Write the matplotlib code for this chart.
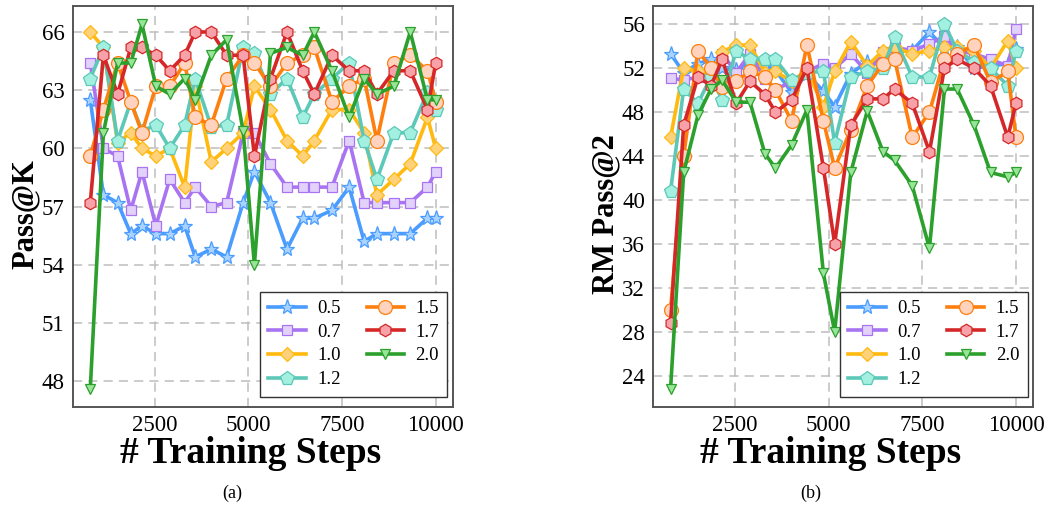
import numpy as np
import matplotlib.pyplot as plt

# ---------------      Datos       -------------------------

steps = [780, 1130, 1510, 1860, 2160, 2530, 2900, 3300, 3580, 4010, 4420, 4860, 5160,
         5590, 6030, 6450, 6760, 7230, 7690, 8090, 8430, 8880, 9320, 9780, 10000]

temps = ['0.5', '0.7', '1.0', '1.2', '1.5', '1.7', '2.0']

# (a) Pass@K
passk_05 = [62.5, 57.6, 57.2, 55.6, 56.0, 55.6, 55.6, 56.0, 54.4, 54.8, 54.4, 57.2, 58.8,
            57.2, 54.8, 56.4, 56.4, 56.8, 58.0, 55.2, 55.6, 55.6, 55.6, 56.4, 56.4]
passk_07 = [64.4, 60.0, 59.6, 56.8, 58.8, 56.0, 58.4, 57.2, 58.0, 57.0, 57.2, 60.8, 60.8,
            59.2, 58.0, 58.0, 58.0, 58.0, 60.4, 57.2, 57.2, 57.2, 57.2, 58.0, 58.8]
passk_10 = [66.0, 65.2, 60.3, 60.8, 60.0, 59.6, 60.0, 58.0, 63.2, 59.3, 60.0, 60.8, 63.2,
            62.0, 60.4, 59.6, 60.4, 62.0, 62.0, 60.8, 57.6, 58.4, 59.2, 61.6, 60.0]
passk_12 = [63.6, 65.2, 60.4, 62.4, 60.9, 61.2, 60.0, 61.2, 63.6, 61.1, 61.2, 65.2, 64.9,
            62.8, 63.6, 61.6, 62.8, 63.6, 64.4, 60.4, 58.4, 60.8, 60.8, 62.9, 62.0]
passk_15 = [59.6, 62.0, 64.4, 62.4, 60.8, 63.2, 63.2, 64.4, 61.6, 61.2, 63.6, 64.8, 64.4,
            63.2, 64.4, 64.8, 65.2, 62.4, 63.2, 63.6, 60.4, 64.4, 64.8, 64.0, 62.4]
passk_17 = [57.2, 64.8, 62.8, 65.2, 65.2, 64.8, 64.0, 64.8, 66.0, 66.0, 64.8, 64.8, 59.6,
            63.6, 66.0, 64.0, 62.8, 64.8, 64.0, 64.0, 62.8, 64.0, 64.0, 62.0, 64.4]
passk_20 = [47.6, 60.8, 64.4, 64.4, 66.4, 63.2, 62.8, 63.6, 62.5, 64.8, 65.6, 60.9, 54.0,
            64.9, 65.2, 64.8, 66.0, 64.0, 61.6, 63.6, 62.8, 63.2, 66.0, 62.5, 62.5]

# (b) RM Pass@2
rm_05 = [53.3, 51.6, 52.4, 52.8, 52.0, 51.8, 52.6, 52.3, 51.8, 49.8, 51.5, 49.9, 48.5,
         51.5, 52.6, 52.2, 53.5, 53.6, 55.3, 53.8, 53.9, 52.0, 52.2, 52.4, 53.7]
rm_07 = [51.1, 50.9, 51.2, 51.5, 53.3, 51.6, 53.3, 51.0, 50.1, 50.7, 51.7, 52.4, 52.0,
         53.3, 51.6, 53.5, 53.9, 53.6, 54.2, 54.9, 53.6, 53.3, 52.8, 52.2, 55.6]
rm_10 = [45.7, 52.0, 51.7, 51.5, 53.5, 54.1, 54.1, 51.6, 51.7, 50.8, 51.8, 48.5, 51.7,
         54.4, 52.2, 53.6, 53.9, 53.3, 53.6, 53.9, 53.9, 53.6, 52.0, 54.5, 52.0]
rm_12 = [40.8, 50.1, 48.8, 51.2, 49.1, 53.6, 52.8, 52.8, 52.8, 50.9, 51.6, 51.7, 45.2,
         51.2, 51.7, 52.0, 54.8, 51.2, 51.2, 56.0, 53.6, 52.6, 52.0, 50.4, 53.6]
rm_15 = [30.0, 44.0, 53.6, 52.0, 50.3, 50.8, 51.7, 51.2, 50.0, 47.2, 54.1, 47.2, 42.9,
         46.4, 50.4, 52.4, 52.8, 45.7, 48.0, 52.8, 53.3, 54.1, 50.7, 51.7, 45.7]
rm_17 = [28.8, 46.8, 51.2, 50.4, 52.8, 48.8, 50.8, 49.6, 48.0, 49.1, 52.0, 42.9, 36.0,
         46.8, 49.2, 49.2, 50.1, 48.8, 44.4, 52.0, 52.8, 52.0, 50.4, 45.7, 48.8]
rm_20 = [22.8, 42.5, 47.7, 50.1, 50.9, 48.9, 48.9, 44.2, 42.9, 45.0, 48.2, 33.3, 28.0,
         42.5, 48.1, 44.4, 43.6, 41.3, 35.6, 50.1, 50.1, 46.8, 42.5, 42.1, 42.5]

passk = [passk_05, passk_07, passk_10, passk_12, passk_15, passk_17, passk_20]
rm = [rm_05, rm_07, rm_10, rm_12, rm_15, rm_17, rm_20]

# ---------------      Estilo       -------------------------

colors = ['#4a9cff', '#a874f2', '#ffb90f', '#5cc8b8', '#ff7f0e', '#d62728', '#2ca02c']
faces = ['#a9d3ff', '#e2d2fa', '#ffd27a', '#a3f0e0', '#ffd3bd', '#f7a1a8', '#98e498']
markers = ['*', 's', 'D', 'p', 'o', 'h', 'v']
msizes = [11, 7, 7, 10, 10, 9, 7]

plt.rcParams['font.family'] = ['Liberation Serif', 'DejaVu Serif']

fig = plt.figure(figsize=(10.52, 5.13), dpi=100)
ax1 = fig.add_axes([0.0694, 0.2066, 0.3612, 0.7817])
ax2 = fig.add_axes([0.621, 0.2066, 0.3612, 0.7817])


def draw(ax, series, yticks, ylabel):
    for vals, c, f, m, ms, t in zip(series, colors, faces, markers, msizes, temps):
        ax.plot(steps, vals, color=c, lw=2.6, marker=m, markersize=ms,
                markerfacecolor=f, markeredgecolor=c, markeredgewidth=0.9, label=t)
    ax.set_xticks([2500, 5000, 7500, 10000])
    ax.set_yticks(yticks)
    ax.grid(True, linestyle=(0, (6, 4)), color='#bdbdbd', linewidth=1.1)
    ax.set_axisbelow(True)
    ax.tick_params(length=0, labelsize=16.5, pad=6)
    for s in ax.spines.values():
        s.set_color('#555555')
        s.set_linewidth(1.4)
    ax.set_xlabel('# Training Steps', fontsize=27, fontweight='bold')
    ax.xaxis.set_label_coords(0.466, -0.072)
    ax.set_ylabel(ylabel, fontsize=22, fontweight='bold')
    ax.yaxis.set_label_coords(-0.087, 0.48)
    leg = ax.legend(loc='lower right', bbox_to_anchor=(1.0, 0.012), ncol=2,
                    fontsize=13.5, fancybox=False, framealpha=1, edgecolor='#333333',
                    handlelength=2.0, handletextpad=0.6, columnspacing=1.4,
                    labelspacing=0.35, borderpad=0.45, borderaxespad=0.3)
    leg.get_frame().set_linewidth(1.0)


draw(ax1, passk, [48, 51, 54, 57, 60, 63, 66], 'Pass@K')
draw(ax2, rm, [24, 28, 32, 36, 40, 44, 48, 52, 56], 'RM Pass@2')

fig.text(0.2205, 0.03, '(a)', ha='center', fontsize=13)
fig.text(0.771, 0.03, '(b)', ha='center', fontsize=13)

plt.savefig('out.png', dpi=100)
